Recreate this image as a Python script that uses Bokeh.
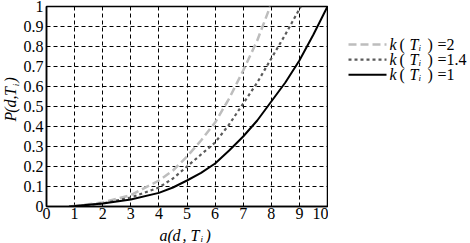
from bokeh.plotting import figure
from bokeh.models import Range1d, FixedTicker
from bokeh.layouts import row, column
from bokeh.embed import file_html
from bokeh.resources import INLINE
from bokeh.core.properties import value

# ---- data ----
x_k1 = [0.8, 1, 2, 3, 4, 4.5, 5, 5.5, 6, 6.5, 7, 7.5, 8, 8.5, 9, 9.5, 10]
y_k1 = [0, 0.002, 0.015, 0.035, 0.068, 0.095, 0.13, 0.168, 0.215, 0.28, 0.35, 0.43, 0.525, 0.62, 0.73, 0.86, 1.0]
x_k14 = [1.0, 2, 3, 4, 4.5, 5, 5.5, 6, 6.5, 7, 7.5, 8, 8.5, 9.05]
y_k14 = [0, 0.015, 0.045, 0.095, 0.14, 0.2, 0.26, 0.32, 0.41, 0.515, 0.62, 0.74, 0.86, 1.0]
x_k2 = [0.5, 1, 2, 3, 4, 4.5, 5, 5.5, 6, 6.5, 7, 7.5, 7.96]
y_k2 = [0, 0.003, 0.02, 0.057, 0.13, 0.18, 0.25, 0.33, 0.42, 0.54, 0.68, 0.83, 1.0]
legend_values = ["2", "1.4", "1"]
x_ticks = [0, 1, 2, 3, 4, 5, 6, 7, 8, 9, 10]
y_ticks = [0, 0.1, 0.2, 0.3, 0.4, 0.5, 0.6, 0.7, 0.8, 0.9, 1.0]
y_tick_labels = ["0", "0.1", "0.2", "0.3", "0.4", "0.5", "0.6", "0.7", "0.8", "0.9", "1"]
x_label_parts = ["a", "(", "d", ",", "T", "i", ")"]
y_label_parts = ["P", "(", "d", ",", "T", "i", ")"]

FONT = "Liberation Serif"
FS = "16px"

# layout geometry (page pixels)
YLAB_W = 20                     # strip holding the y-axis title
L, R, T, B = 45, 327, 6, 206    # plot frame
MAIN_W = 328 - YLAB_W
MAIN_H = 226
LEG_W = 470 - 328

p = figure(width=MAIN_W, height=MAIN_H, x_range=Range1d(0, 10), y_range=Range1d(0, 1),
           output_backend="svg", toolbar_location=None,
           min_border_left=L - YLAB_W, min_border_right=328 - R, min_border_top=T,
           min_border_bottom=MAIN_H - B)
p.background_fill_color = "white"
p.border_fill_color = "white"
p.outline_line_color = "black"
p.outline_line_width = 1.5

for ax in (p.xaxis[0], p.yaxis[0]):
    ax.major_tick_in = 0
    ax.major_tick_out = 0
    ax.minor_tick_in = 0
    ax.minor_tick_out = 0
    ax.axis_line_color = "black"
    ax.axis_line_width = 1.5
    ax.major_label_text_font = FONT
    ax.major_label_text_font_size = FS
    ax.major_label_text_color = "black"

p.xaxis.ticker = FixedTicker(ticks=x_ticks)
p.yaxis.ticker = FixedTicker(ticks=y_ticks)
p.yaxis.major_label_overrides = {t: s for t, s in zip(y_ticks, y_tick_labels)}
p.xaxis.major_label_standoff = 1
p.yaxis.major_label_standoff = 3

for g in (p.xgrid[0], p.ygrid[0]):
    g.grid_line_color = "black"
    g.grid_line_dash = "4 3"
    g.grid_line_width = 1

p.line(x_k2, y_k2, line_color="#bdbdbd", line_width=2.5, line_dash="8 4")
p.line(x_k14, y_k14, line_color="#5a5a5a", line_width=2.2, line_dash="3 3")
p.line(x_k1, y_k1, line_color="black", line_width=2)


def blank(fig):
    fig.axis.visible = False
    fig.grid.visible = False
    fig.outline_line_color = None
    fig.background_fill_color = "white"
    fig.border_fill_color = "white"
    return fig


# ---- y-axis title strip (page pixel coordinates) ----
yl = blank(figure(width=YLAB_W, height=MAIN_H, x_range=Range1d(0, YLAB_W),
                  y_range=Range1d(MAIN_H, 0), output_backend="svg",
                  toolbar_location=None, min_border=0))
ycommon = dict(text_font=value(FONT), text_font_style="italic", text_baseline="middle",
               text_align="left", angle=1.5707963, text_color="black")
y_pos = [130, 120, 114, 105, 101, 90, 86]
for part, yy in zip(y_label_parts, y_pos):
    sub = part == "i"
    yl.text([15 if sub else 10], [yy], text=[part],
            text_font_size="9px" if sub else FS, **ycommon)

# ---- legend panel ----
lg = blank(figure(width=LEG_W, height=MAIN_H, x_range=Range1d(328, 470),
                  y_range=Range1d(MAIN_H, 0), output_backend="svg",
                  toolbar_location=None, min_border=0))
rows_y = [43, 60, 77]
styles = [dict(line_color="#bdbdbd", line_width=2.5, line_dash="8 4"),
          dict(line_color="#5a5a5a", line_width=2.2, line_dash="3 3"),
          dict(line_color="black", line_width=2)]
common = dict(text_font=value(FONT), text_baseline="middle", text_color="black")
for yy, st, val in zip(rows_y, styles, legend_values):
    lg.line([348, 386], [yy, yy], **st)
    lg.text([389], [yy], text=["k"], text_font_size=FS, text_font_style="italic", **common)
    lg.text([399], [yy], text=["("], text_font_size=FS, **common)
    lg.text([409], [yy], text=["T"], text_font_size=FS, text_font_style="italic", **common)
    lg.text([418], [yy + 4], text=["i"], text_font_size="9px", text_font_style="italic", **common)
    lg.text([427], [yy], text=[")"], text_font_size=FS, **common)
    lg.text([437], [yy], text=["=" + val], text_font_size=FS, **common)

# ---- x-axis title strip across the full width ----
xl = blank(figure(width=470, height=243 - MAIN_H, x_range=Range1d(0, 470),
                  y_range=Range1d(243, MAIN_H), output_backend="svg",
                  toolbar_location=None, min_border=0))
xcommon = dict(text_font=value(FONT), text_font_style="italic", text_baseline="middle",
               text_color="black")
x_pos = [159, 167, 172, 182, 190, 200, 205]
for part, xx in zip(x_label_parts, x_pos):
    sub = part == "i"
    xl.text([xx], [238 if sub else 235], text=[part],
            text_font_size="9px" if sub else FS, **xcommon)

layout = column(row(yl, p, lg, spacing=0), xl, spacing=0)
open("out.html", "w").write(file_html(layout, INLINE))
